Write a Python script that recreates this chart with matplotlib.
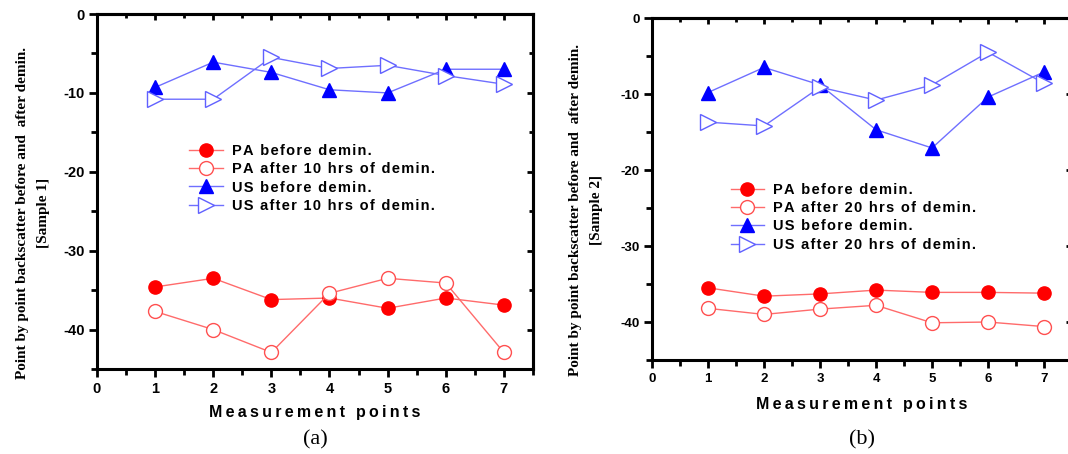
import matplotlib.pyplot as plt
from matplotlib.ticker import MultipleLocator

plt.rcParams["axes.unicode_minus"] = False

# measurement positions shared by both samples
points = [1, 2, 3, 4, 5, 6, 7]

# sample 1 (10 hrs of demineralisation)
pa_before_1 = [-34.6, -33.5, -36.2, -36.0, -37.3, -36.0, -36.9]
pa_after_1 = [-37.7, -40.0, -42.9, -35.4, -33.5, -34.1, -42.9]
us_before_1 = [-9.3, -6.1, -7.4, -9.6, -10.0, -7.0, -7.0]
us_after_1 = [-10.8, -10.8, -5.5, -6.9, -6.5, -7.8, -8.9]

# sample 2 (20 hrs of demineralisation)
pa_before_2 = [-35.5, -36.6, -36.3, -35.8, -36.1, -36.1, -36.2]
pa_after_2 = [-38.2, -39.0, -38.3, -37.8, -40.1, -40.0, -40.6]
us_before_2 = [-9.8, -6.5, -8.8, -14.7, -17.1, -10.4, -7.1]
us_after_2 = [-13.7, -14.2, -9.1, -10.8, -8.8, -4.5, -8.6]

labels_1 = ["PA before demin.", "PA after 10 hrs of demin.",
            "US before demin.", "US after 10 hrs of demin."]
labels_2 = ["PA before demin.", "PA after 20 hrs of demin.",
            "US before demin.", "US after 20 hrs of demin."]
ylabels = ["Point by point backscatter before and  after demin.\n[Sample 1]",
           "Point by point backscatter before and  after demin.\n[Sample 2]"]
xlabel = "Measurement points"
panel_tags = ["(a)", "(b)"]

SANS = ["Liberation Sans", "DejaVu Sans"]
SERIF = ["Liberation Serif", "DejaVu Serif"]


def spaced(s, gap="\u2009"):
    # Origin-style wide letter spacing
    return gap.join(s)


def draw_panel(ax, series, labels, ylabel, fs, leg_anchor, ylab_xy, xpad):
    pa_b, pa_a, us_b, us_a = series
    red_line, blue_line = "#ff6b6b", "#6f6fff"
    h1, = ax.plot(points, pa_b, color=red_line, lw=1, marker="o", ms=9.5,
                  mfc="#ff0000", mec="#ff0000")
    h2, = ax.plot(points, pa_a, color=red_line, lw=1, marker="o", ms=10,
                  mfc="white", mec="#ff5050", mew=1)
    h3, = ax.plot(points, us_b, color=blue_line, lw=1, marker="^", ms=10,
                  mfc="#0000ff", mec="#0000ff")
    h4, = ax.plot(points, us_a, color=blue_line, lw=1, marker=">", ms=11,
                  mfc="white", mec="#6060ff", mew=1)

    ax.set_xlim(0, 7.5)
    ax.set_ylim(-45, 0)
    ax.xaxis.set_major_locator(MultipleLocator(1))
    ax.xaxis.set_minor_locator(MultipleLocator(0.5))
    ax.yaxis.set_major_locator(MultipleLocator(10))
    ax.yaxis.set_minor_locator(MultipleLocator(5))
    for sp in ax.spines.values():
        sp.set_linewidth(2.2)
    ax.tick_params(which="major", direction="out", length=6, width=2,
                   labelsize=fs, pad=3)
    ax.tick_params(which="minor", direction="out", length=4, width=2)
    for lab in ax.get_xticklabels() + ax.get_yticklabels():
        lab.set_fontfamily(SANS)
        lab.set_fontweight("bold")

    # mirrored ticks on the top and right, pointing inwards
    top = ax.secondary_xaxis("top")
    right = ax.secondary_yaxis("right")
    top.tick_params(which="both", direction="in", width=2, labeltop=False)
    right.tick_params(which="both", direction="in", width=2, labelright=False)
    for sec in (top, right):
        sec.tick_params(which="major", length=4)
        sec.tick_params(which="minor", length=3)
        for sp in sec.spines.values():
            sp.set_linewidth(2.2)
    top.xaxis.set_major_locator(MultipleLocator(1))
    top.xaxis.set_minor_locator(MultipleLocator(0.5))
    right.yaxis.set_major_locator(MultipleLocator(10))
    right.yaxis.set_minor_locator(MultipleLocator(5))

    ax.set_xlabel(spaced(xlabel), fontsize=11.5, fontweight="bold",
                  family=SANS, labelpad=xpad)
    ax.set_ylabel(ylabel, fontsize=11, fontweight="bold",
                  family=SERIF, linespacing=1.75)
    ax.yaxis.set_label_coords(*ylab_xy)

    ax.legend([h1, h2, h3, h4], [spaced(s, "\u200a") for s in labels],
              loc="upper left", bbox_to_anchor=leg_anchor, frameon=False,
              borderpad=0, handlelength=2.3, handletextpad=0.6,
              labelspacing=0.3,
              prop={"family": SANS, "weight": "bold", "size": 10.5})


fig = plt.figure(figsize=(10.68, 4.54), dpi=100)
ax_a = fig.add_axes([0.0908, 0.1872, 0.4082, 0.7819])
ax_b = fig.add_axes([0.6105, 0.2070, 0.3933, 0.7533])

draw_panel(ax_a, [pa_before_1, pa_after_1, us_before_1, us_after_1],
           labels_1, ylabels[0], 10.5, (0.195, 0.655), (-0.108, 0.44), 7)
draw_panel(ax_b, [pa_before_2, pa_after_2, us_before_2, us_after_2],
           labels_2, ylabels[1], 9.5, (0.17, 0.54), (-0.117, 0.44), 9)

fig.text(315 / 1068, 1 - 440 / 454, panel_tags[0], ha="center",
         va="center", fontsize=16, family=SERIF)
fig.text(862 / 1068, 1 - 440 / 454, panel_tags[1], ha="center",
         va="center", fontsize=16, family=SERIF)

fig.savefig("out.png", dpi=100)
